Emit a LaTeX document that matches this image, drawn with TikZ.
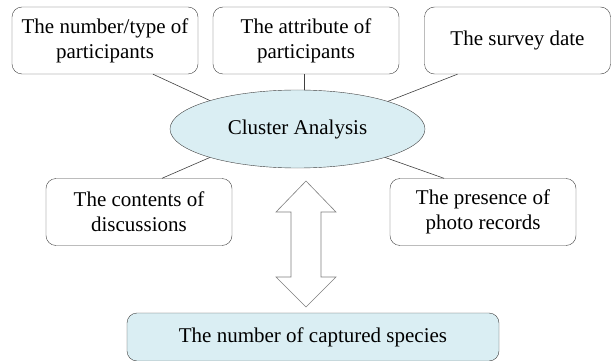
\documentclass[tikz,border=0pt]{standalone}
\usepackage{fontspec}
\setmainfont{Liberation Serif}
\usepackage{tikz}
\usetikzlibrary{calc}
\usetikzlibrary{shapes.geometric}
\definecolor{lightBlue}{HTML}{DAEEF3}
\definecolor{darkLine}{HTML}{404040}
\definecolor{arrowLine}{HTML}{7F7F7F}

\begin{document}
\begin{tikzpicture}[x=1pt, y=-1pt, align=center, font=\rmfamily\fontsize{21}{25}\selectfont]
    \pgfmathsetmacro{\boxWidth}{186}
    \pgfmathsetmacro{\boxHeight}{67}
    \pgfmathsetmacro{\ellWidth}{255}
    \pgfmathsetmacro{\ellHeight}{78}

    \useasboundingbox (0,0) rectangle (614,361);

    \node (ca) [draw=darkLine, ellipse, fill=lightBlue, inner sep=0pt, minimum width=\ellWidth, minimum height=\ellHeight] at (297.5,129) {Cluster Analysis};

    \node (num) [draw=darkLine, rectangle, rounded corners=10pt, minimum width=\boxWidth, minimum height=\boxHeight] at (105,40.5) {The number/type of\\participants};
    \node (attr) [draw=darkLine, rectangle, rounded corners=10pt, minimum width=\boxWidth, minimum height=\boxHeight] at (306,40.5) {The attribute of\\participants};
    \node (date) [draw=darkLine, rectangle, rounded corners=10pt, minimum width=\boxWidth, minimum height=\boxHeight] at (517.5,40.5) {The survey date};
    \node (cont) [draw=darkLine, rectangle, rounded corners=10pt, minimum width=\boxWidth, minimum height=\boxHeight] at (139,212) {The contents of\\discussions};
    \node (photo) [draw=darkLine, rectangle, rounded corners=10pt, minimum width=\boxWidth, minimum height=\boxHeight] at (483,212) {The presence of\\photo records};
    \node (species) [draw=darkLine, fill=lightBlue, rectangle, rounded corners=10pt, minimum width=372, minimum height=48] at (313,337) {The number of captured species};

    \draw [darkLine, line width=0.6pt] ([xshift=48pt]num.south) -- (ca.162);
    \draw [darkLine, line width=0.6pt] ([xshift=-2pt]attr.south) -- ([xshift=-2pt]attr.south |- ca.north);
    \draw [darkLine, line width=0.6pt] ([xshift=-60pt]date.south) -- (ca.17);
    \draw [darkLine, line width=0.6pt] ([xshift=23pt]cont.north) -- (ca.198);
    \draw [darkLine, line width=0.6pt] ([xshift=-39pt]photo.north) -- (ca.342);

    % two-headed block arrow between the ellipse and the result box
    \coordinate (arrTop) at (306,181);
    \coordinate (arrBot) at (306,307);
    \draw [arrowLine, line width=0.6pt, fill=white] (arrTop) -- ++(30,31) -- ++(-15,0) -- ($(arrBot)+(15,-30)$) -- ++(15,0) -- (arrBot) -- ++(-30,-30) -- ++(15,0) -- ($(arrTop)+(-15,31)$) -- ++(-15,0) -- cycle;

\end{tikzpicture}
\end{document}
